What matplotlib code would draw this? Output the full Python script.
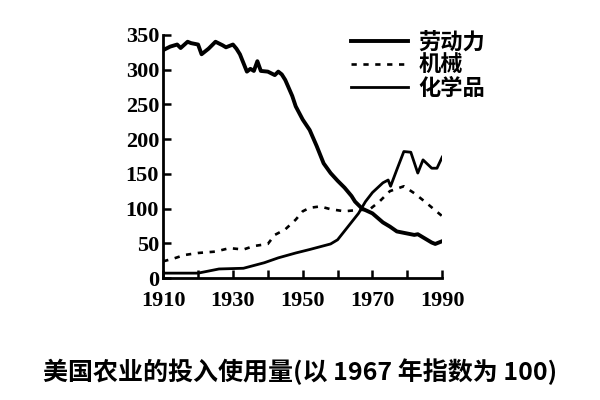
import matplotlib.pyplot as plt

plt.rcParams['font.family'] = ['Noto Sans CJK SC', 'DejaVu Sans']

# 劳动力
labor_years = [1910, 1912, 1914, 1915, 1917, 1918, 1920, 1921, 1923, 1925, 1927, 1928,
               1930, 1931, 1932, 1934, 1935, 1936, 1937, 1938, 1940, 1942, 1943, 1944,
               1945, 1947, 1948, 1950, 1952, 1954, 1956, 1958, 1960, 1962, 1964, 1965,
               1967, 1970, 1973, 1975, 1977, 1980, 1982, 1983, 1985, 1987, 1988, 1990]
labor = [328, 333, 336, 331, 340, 338, 336, 322, 330, 340, 335, 332,
         336, 330, 322, 297, 301, 298, 312, 298, 297, 292, 297, 293,
         285, 262, 247, 228, 213, 190, 165, 151, 140, 130, 118, 110,
         100, 93, 80, 74, 67, 64, 62, 63, 57, 51, 49, 53]

# 机械
mach_years = [1910, 1913, 1916, 1920, 1925, 1929, 1933, 1936, 1940, 1942, 1945,
              1948, 1950, 1952, 1955, 1958, 1962, 1966, 1969, 1972, 1975, 1979,
              1982, 1985, 1990]
machinery = [24, 28, 33, 36, 38, 43, 41, 46, 49, 62, 70,
             84, 96, 101, 103, 99, 96, 98, 98, 110, 125, 132,
             122, 110, 89]

# 化学品
chem_years = [1910, 1920, 1926, 1933, 1939, 1943, 1948, 1952, 1955, 1958, 1960,
              1963, 1966, 1968, 1970, 1973, 1974.5, 1975.2, 1977, 1979, 1981,
              1983, 1984.5, 1987, 1988.5, 1990]
chemicals = [7, 7, 13, 14, 22, 29, 36, 41, 45, 49, 55,
             74, 93, 110, 123, 137, 141, 132, 156, 182, 181,
             151, 170, 158, 158, 174]

fig = plt.figure(figsize=(6, 4), dpi=100)
ax = fig.add_axes([0.272, 0.305, 0.465, 0.608])

ax.plot(labor_years, labor, color='black', linewidth=2.8, label='劳动力')
ax.plot(mach_years, machinery, color='black', linewidth=1.9, linestyle=(0, (2, 2.5)), label='机械')
ax.plot(chem_years, chemicals, color='black', linewidth=2.0, label='化学品')

ax.set_xlim(1910, 1990)
ax.set_ylim(0, 350)
ax.set_xticks(range(1910, 1991, 10))
ax.set_xticklabels([str(y) if (y - 1910) % 20 == 0 else '' for y in range(1910, 1991, 10)])
ax.set_yticks(range(0, 351, 50))

for s in ['top', 'right']:
    ax.spines[s].set_visible(False)
for s in ['left', 'bottom']:
    ax.spines[s].set_linewidth(2)

ax.tick_params(axis='both', direction='in', length=6, width=1.8)
ax.tick_params(axis='x', pad=9)
ax.tick_params(axis='y', pad=3)
for lab in ax.get_xticklabels() + ax.get_yticklabels():
    lab.set_fontfamily('Liberation Serif')
    lab.set_fontweight('bold')
    lab.set_fontsize(16)

leg = ax.legend(loc='upper left', bbox_to_anchor=(0.6, 1.1), frameon=False,
                handlelength=2.6, handletextpad=0.45, labelspacing=0.0,
                prop={'family': 'Noto Sans CJK SC', 'weight': 'bold', 'size': 16})

fig.text(0.5, 0.07, '美国农业的投入使用量(以 1967 年指数为 100)', ha='center', va='center',
         fontsize=18, fontweight='bold')

fig.savefig('out.png', dpi=100)
